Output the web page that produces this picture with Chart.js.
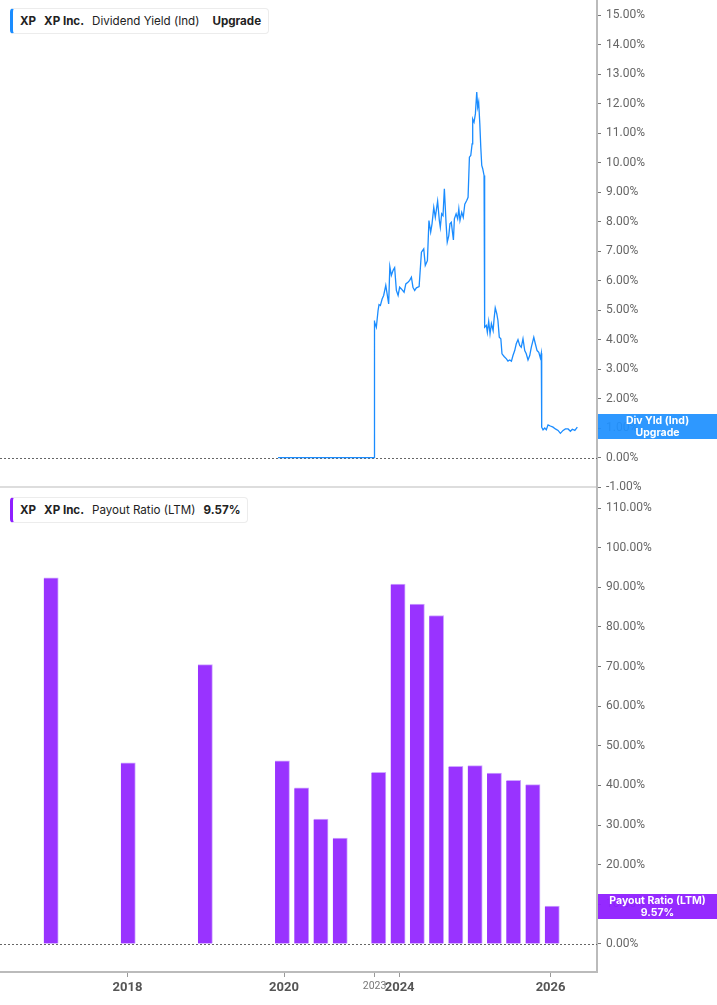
<!DOCTYPE html>
<html>
<head>
<meta charset="utf-8">
<script src="https://cdn.jsdelivr.net/npm/chart.js@4.4.1/dist/chart.umd.min.js"></script>
<style>
	html, body { margin: 0; padding: 0; background: #fff; }
	body { width: 717px; height: 1005px; position: relative; overflow: hidden; font-family: Inter, "Noto Sans", sans-serif; }
	.pane { position: absolute; left: 0; width: 717px; }
	#top-pane { top: 0; height: 500px; }
	#bottom-pane { top: 487px; height: 518px; }
	.legend {
		position: absolute; left: 10px; height: 24px; line-height: 24px;
		background: #fff; border: 1px solid #ececec; border-left: 3px solid; border-radius: 4px;
		padding: 0 7px 0 7px; font-size: 11.6px; color: #222; white-space: nowrap;
	}
	.legend span { margin-right: 8px; }
	.legend span:last-child { margin-right: 0; }
	.legend b { font-weight: 700; }
	.tag {
		position: absolute; left: 598px; width: 119px; height: 25px;
		color: #fff; font-size: 10.5px; font-weight: 700; line-height: 12px;
		text-align: center; display: flex; flex-direction: column; justify-content: center;
	}
</style>
</head>
<body>
<div class="pane" id="top-pane"><canvas id="yield-chart"></canvas></div>
<div class="pane" id="bottom-pane"><canvas id="payout-chart"></canvas></div>

<div class="legend" style="top:8px; border-left-color:#1a8cff;">
	<span><b>XP</b></span><span><b>XP Inc.</b></span><span style="margin-right:13px;">Dividend Yield (Ind)</span><span><b>Upgrade</b></span>
</div>
<div class="legend" style="top:497px; border-left-color:#8f1fff;">
	<span><b>XP</b></span><span><b>XP Inc.</b></span><span>Payout Ratio (LTM)</span><span><b>9.57%</b></span>
</div>

<div class="tag" style="top:414px; background:rgba(30,144,255,0.93);"><div>Div Yld (Ind)</div><div>Upgrade</div></div>
<div class="tag" style="top:894px; background:rgba(143,31,255,0.95);"><div>Payout Ratio (LTM)</div><div>9.57%</div></div>

<script>
// x positions are in "period" units of the shared (compressed) time axis
const xTickPeriods = [3.97, 12.09, 16.79, 18.09, 25.92];
const xTickLabels = ["2018", "2020", "2023", "2024", "2026"];

const payoutPeriods = [0, 4, 8, 12, 13, 14, 15, 17, 18, 19, 20, 21, 22, 23, 24, 25, 26];
const payoutRatio = [92.4, 45.7, 70.5, 46.2, 39.4, 31.5, 26.7, 43.3, 90.8, 85.8, 82.9, 44.8, 45.0, 43.1, 41.3, 40.2, 9.57];

const yieldPeriods = [
	11.78, 16.76, 16.77, 16.8, 16.88, 16.97, 17.02, 17.09, 17.18, 17.26, 17.37, 17.44, 17.52, 17.58, 17.66, 17.75, 17.83, 17.92,
	18.01, 18.09, 18.18, 18.32, 18.41, 18.52, 18.61, 18.7, 18.78, 18.87, 18.96, 19.1, 19.22, 19.34, 19.42, 19.53, 19.61, 19.7,
	19.77, 19.86, 19.94, 20.06, 20.15, 20.2, 20.27, 20.34, 20.41, 20.5, 20.56, 20.64, 20.7, 20.77, 20.88, 20.93, 21.02, 21.1,
	21.16, 21.22, 21.31, 21.39, 21.47, 21.57, 21.64, 21.71, 21.78, 21.85, 21.88, 21.95, 22.02, 22.09, 22.14, 22.19, 22.25, 22.3,
	22.35, 22.4, 22.47, 22.5, 22.59, 22.64, 22.71, 22.78, 22.85, 22.94, 22.99, 23.05, 23.13, 23.19, 23.26, 23.34, 23.4, 23.51,
	23.63, 23.71, 23.8, 23.89, 23.97, 24.06, 24.14, 24.23, 24.32, 24.4, 24.49, 24.58, 24.66, 24.75, 24.84, 24.92, 25.05, 25.13,
	25.22, 25.31, 25.39, 25.44, 25.46, 25.53, 25.62, 25.7, 25.79, 25.91, 26.05, 26.17, 26.31, 26.43, 26.57, 26.69, 26.83, 26.95,
	27.05, 27.18, 27.31,
];
const yieldValues = [
	0, 0, 4.65, 4.6, 4.42, 4.99, 5.19, 5.16, 5.38, 5.5, 5.84, 5.55, 5.21, 6.48, 6.18, 6.35, 6.44, 5.67,
	5.5, 5.78, 5.72, 5.61, 5.89, 5.95, 6.01, 6.12, 5.78, 5.67, 5.76, 5.8, 6.97, 7.08, 6.52, 6.68, 8.04, 7.65,
	7.93, 8.49, 8.15, 8.7, 8.04, 7.81, 8.27, 8.21, 9.12, 7.93, 7.31, 7.53, 7.93, 7.98, 7.38, 8.1, 8.27, 8.1,
	8.44, 8.04, 8.32, 8.15, 8.6, 8.72, 8.83, 10.19, 10.25, 10.64, 11.49, 11.38, 11.66, 12.4, 11.89, 12.06, 11.32, 10.53,
	9.91, 9.8, 9.57, 4.42, 4.48, 4.25, 4.62, 4.2, 4.54, 4.31, 4.71, 5.08, 4.88, 4.65, 4.08, 4.03, 3.52, 3.43,
	3.35, 3.27, 3.31, 3.27, 3.46, 3.63, 3.86, 4.0, 3.8, 3.74, 4.03, 3.63, 3.52, 3.31, 3.46, 3.74, 4.08, 3.86,
	3.63, 3.57, 3.38, 3.54, 1.03, 0.94, 1.0, 0.94, 1.11, 1.07, 1.03, 0.97, 0.92, 0.82, 0.92, 0.97, 0.97, 0.89,
	0.96, 0.92, 1.03,
];

const yieldTicks = [-1, 0, 1, 2, 3, 4, 5, 6, 7, 8, 9, 10, 11, 12, 13, 14, 15];
const payoutTicks = [0, 10, 20, 30, 40, 50, 60, 70, 80, 90, 100, 110];

const xMin = -2.647;
const xMax = 28.33;
const axisWidth = 120;

Chart.defaults.font.family = "Roboto, 'Noto Sans', sans-serif";
Chart.defaults.animation = false;

const zeroLine = {
	id: "zeroLine",
	beforeDatasetsDraw: (chart) => {
		const { ctx, chartArea, scales } = chart;
		const y = Math.round(scales.y.getPixelForValue(0)) + 0.5;
		ctx.save();
		ctx.strokeStyle = "#666";
		ctx.lineWidth = 1;
		ctx.setLineDash([2, 2]);
		ctx.beginPath();
		ctx.moveTo(chartArea.left, y);
		ctx.lineTo(chartArea.right, y);
		ctx.stroke();
		ctx.restore();
	},
};

const noPadding = (scale) => {
	scale.paddingTop = 0;
	scale.paddingBottom = 0;
	scale.paddingLeft = 0;
	scale.paddingRight = 0;
};

const percentAxis = (min, max, tickValues) => ({
	position: "right",
	min,
	max,
	afterBuildTicks: (scale) => {
		scale.ticks = tickValues.map((value) => ({ value }));
	},
	afterFit: (scale) => {
		scale.width = axisWidth;
		noPadding(scale);
	},
	ticks: {
		color: "#666",
		font: { size: 12 },
		padding: 5,
		callback: (v) => `${Number(v).toFixed(2)}%`,
	},
	grid: { drawOnChartArea: false, drawTicks: true, tickLength: 4, color: "#777" },
	border: { color: "#bbb", width: 2 },
});

const baseOptions = {
	responsive: true,
	maintainAspectRatio: false,
	layout: { padding: 0 },
	plugins: { legend: { display: false }, tooltip: { enabled: false } },
	events: [],
};

new Chart(document.getElementById("yield-chart"), {
	type: "line",
	data: {
		datasets: [
			{
				data: yieldPeriods.map((x, i) => ({ x, y: yieldValues[i] })),
				borderColor: "#1a8cff",
				borderWidth: 1.3,
				pointRadius: 0,
				tension: 0,
			},
		],
	},
	options: {
		...baseOptions,
		scales: {
			x: {
				type: "linear",
				min: xMin,
				max: xMax,
				offset: false,
				afterFit: (scale) => {
					// leaves room under the plot so the -1.00% label is not cut off
					scale.height = 13;
					noPadding(scale);
				},
				ticks: { display: false },
				grid: { display: false },
				border: { color: "#ddd", width: 2 },
			},
			y: percentAxis(-1, 15.525, yieldTicks),
		},
	},
	plugins: [zeroLine],
});

new Chart(document.getElementById("payout-chart"), {
	type: "bar",
	data: {
		datasets: [
			{
				data: payoutPeriods.map((x, i) => ({ x, y: payoutRatio[i] })),
				backgroundColor: "#9933ff",
				borderColor: "#cfa8ff",
				borderWidth: { top: 1, right: 1, left: 0, bottom: 0 },
				borderSkipped: false,
				barThickness: 14.5,
			},
		],
	},
	options: {
		...baseOptions,
		scales: {
			x: {
				type: "linear",
				min: xMin,
				max: xMax,
				offset: false,
				afterBuildTicks: (scale) => {
					scale.ticks = xTickPeriods.map((value) => ({ value }));
				},
				afterFit: (scale) => {
					scale.height = 33;
					noPadding(scale);
				},
				ticks: {
					color: (c) => (c.index === 2 ? "#777" : "#555"),
					font: (c) => (c.index === 2 ? { size: 10.5, weight: "normal" } : { size: 13, weight: "bold" }),
					padding: 3,
					maxRotation: 0,
					autoSkip: false,
					callback: (v, i) => xTickLabels[i],
				},
				grid: { offset: false, drawOnChartArea: false, drawTicks: true, tickLength: 5, color: "#999" },
				border: { color: "#bbb", width: 2 },
			},
			y: percentAxis(-7.07, 115.32, payoutTicks),
		},
	},
	plugins: [zeroLine],
});
</script>
</body>
</html>
